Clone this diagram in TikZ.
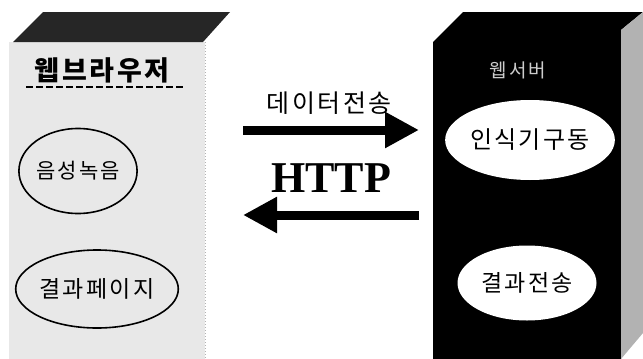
\documentclass[tikz,border=0pt]{standalone}
\usepackage{fontspec}
\setmainfont{Liberation Serif}
\newfontfamily\kofont[LetterSpace=10]{Noto Sans CJK KR}
\usetikzlibrary{positioning, arrows.meta, shapes.geometric}

\begin{document}
\begin{tikzpicture}[
    x=1pt, y=-1pt,
    oval/.style={
        ellipse,
        draw=black,
        line width=1.6pt,
        inner sep=0pt,
        font=\kofont\fontsize{23}{25}\selectfont
    },
    whiteoval/.style={
        ellipse,
        fill=white,
        inner sep=0pt,
        font=\kofont\fontsize{23}{25}\selectfont
    },
    bigarrow/.style={
        -{Triangle[length=34pt, width=34pt]},
        line width=9pt,
        draw=black
    },
    boxtitle/.style={
        font=\kofont\bfseries\fontsize{27}{29}\selectfont
    }
]
\useasboundingbox (0,0) rectangle (643,359);

% Web browser block
\fill[gray!18] (9,42) rectangle (205,359);
\fill[black!85] (13,42) -- (43,12) -- (230,12) -- (203,42) -- cycle;
\draw[gray!60, dotted, line width=1pt] (205,42) -- (205,359);

% Server block
\fill[black] (433,42) -- (463,12) -- (643,12) -- (621,30) -- (621,359) -- (433,359) -- cycle;
\fill[gray!60] (621,30) -- (643,12) -- (643,333) -- (621,359) -- cycle;

% Titles
\node[boxtitle] (browser) at (102,70) {웹브라우저};
\draw[line width=2pt, dash pattern=on 7pt off 3pt] (26,87) -- (186,87);
\node[boxtitle, text=gray!40, font=\kofont\fontsize{19}{21}\selectfont] (server) at (518,70) {웹서버};

% Functions
\node[oval, minimum width=111pt, minimum height=85pt, font=\kofont\fontsize{21}{23}\selectfont] (record) at (78,171) {음성녹음};
\node[oval, minimum width=145pt, minimum height=78pt] (result) at (97,289) {결과페이지};
\node[whiteoval, minimum width=140pt, minimum height=80pt, font=\kofont\fontsize{24}{26}\selectfont] (engine) at (530,140) {인식기구동};
\node[whiteoval, minimum width=139pt, minimum height=75pt] (reply) at (527,283) {결과전송};

% Transfer arrows
\coordinate (sendA) at (243,130);
\coordinate (sendB) at (419,130);
\coordinate (backA) at (419,215);
\coordinate (backB) at (243,215);
\draw[bigarrow] (sendA) -- (sendB);
\draw[bigarrow] (backA) -- (backB);
\node[font=\kofont\fontsize{25}{27}\selectfont] (datalabel) at (329,103) {데이터전송};
\node[font=\bfseries\fontsize{44}{46}\selectfont] (http) at (331,178) {HTTP};

\end{tikzpicture}
\end{document}
